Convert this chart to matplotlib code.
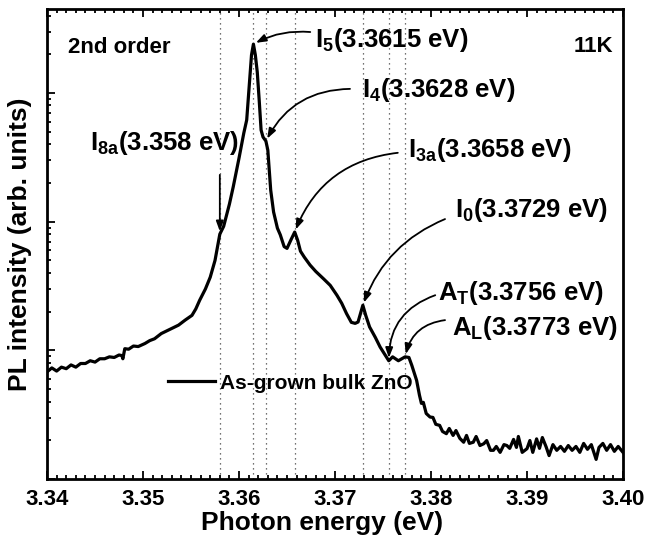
import numpy as np
import matplotlib
matplotlib.use("Agg")
import matplotlib.pyplot as plt
from matplotlib.ticker import MultipleLocator, NullFormatter, FormatStrFormatter, LogLocator

plt.rcParams['font.family'] = ['Liberation Sans', 'DejaVu Sans']
plt.rcParams['font.weight'] = 'bold'
plt.rcParams['mathtext.default'] = 'regular'

# PL spectrum of as-grown bulk ZnO at 11 K (2nd order), energy in eV
energy = [
    3.3400, 3.3405, 3.3410, 3.3415, 3.3420, 3.3425, 3.3430, 3.3435, 3.3440, 3.3445,
    3.3450, 3.3455, 3.3460, 3.3465, 3.3470, 3.3475, 3.3478, 3.3479, 3.3481, 3.3485,
    3.3490, 3.3495, 3.3502, 3.3507, 3.3512, 3.3519, 3.3525, 3.3530, 3.3537, 3.3544,
    3.3551, 3.3555, 3.3559, 3.3565, 3.3570, 3.3575, 3.3580, 3.3584, 3.3590, 3.3594,
    3.3600, 3.3605, 3.3608, 3.3611, 3.3613, 3.3615, 3.3617, 3.3619, 3.3621, 3.3623,
    3.3625, 3.3628, 3.3630, 3.3633, 3.3636, 3.3640, 3.3643, 3.3647, 3.3650, 3.3654,
    3.3658, 3.3661, 3.3664, 3.3668, 3.3674, 3.3680, 3.3688, 3.3695, 3.3702, 3.3707,
    3.3712, 3.3717, 3.3721, 3.3724, 3.3727, 3.3729, 3.3732, 3.3736, 3.3742, 3.3747,
    3.3751, 3.3756, 3.3760, 3.3766, 3.3773, 3.3777, 3.3780, 3.3785, 3.3788, 3.3790,
    3.3792, 3.3795, 3.3799, 3.3802, 3.3805, 3.3809, 3.3812, 3.3816, 3.3819, 3.3823,
    3.3826, 3.3830, 3.3834, 3.3837, 3.3840, 3.3844, 3.3847, 3.3851, 3.3855, 3.3858,
    3.3862, 3.3865, 3.3868, 3.3872, 3.3876, 3.3879, 3.3882, 3.3886, 3.3889, 3.3891,
    3.3895, 3.3900, 3.3903, 3.3906, 3.3910, 3.3913, 3.3916, 3.3920, 3.3923, 3.3927,
    3.3931, 3.3935, 3.3939, 3.3943, 3.3947, 3.3951, 3.3955, 3.3959, 3.3963, 3.3967,
    3.3972, 3.3975, 3.3979, 3.3983, 3.3987, 3.3991, 3.3995, 3.4000,
]
intensity = [
    6.8, 7.3, 6.9, 7.4, 7.2, 7.7, 7.4, 7.9, 7.9, 8.3,
    8.1, 8.6, 8.6, 8.9, 8.8, 9.2, 9.1, 8.6, 10.3, 10.2,
    10.8, 10.7, 11.3, 11.9, 12.3, 13.5, 14.2, 14.8, 15.7, 17.2,
    18.7, 21.0, 24.5, 30.0, 37.0, 50.0, 80.0, 92.0, 137, 187,
    312, 489, 617, 1260, 1975, 2400, 1975, 1456, 883, 515,
    455, 423, 360, 176, 119, 89, 79, 64, 62, 72,
    83, 72, 59, 53, 46, 41, 36, 32, 26.8, 23.2,
    19.3, 16.5, 16.2, 16.6, 19.8, 22.4, 18.7, 15.2, 12.6, 10.6,
    9.5, 8.3, 8.9, 8.3, 8.9, 8.8, 7.64, 5.84, 4.47, 3.87,
    3.94, 3.23, 3.03, 3.01, 2.66, 2.61, 2.34, 2.25, 2.47, 2.18,
    2.38, 2.07, 1.93, 2.18, 1.89, 1.93, 2.14, 1.82, 1.88, 1.99,
    1.67, 1.67, 1.79, 1.61, 1.85, 1.82, 1.73, 2.03, 1.76, 2.14,
    1.61, 1.72, 1.99, 1.61, 2.05, 1.73, 2.10, 1.77, 1.52, 1.85,
    1.67, 1.79, 1.64, 1.82, 1.67, 1.79, 1.61, 1.89, 1.70, 1.85,
    1.42, 1.76, 1.89, 1.67, 1.85, 1.64, 1.79, 1.61,
]

# assigned lines (eV)
line_names = ['I$_{8a}$', 'I$_5$', 'I$_4$', 'I$_{3a}$', 'I$_0$', 'A$_T$', 'A$_L$']
line_energy = [3.358, 3.3615, 3.3628, 3.3658, 3.3729, 3.3756, 3.3773]
line_text = ['3.358', '3.3615', '3.3628', '3.3658', '3.3729', '3.3756', '3.3773']


def curve_at(e):
    # intensity on the spectrum at a given energy (log interpolation)
    return 10 ** np.interp(e, energy, np.log10(intensity))


fig = plt.figure(figsize=(6.46, 5.38), dpi=100)
ax = fig.add_axes([0.0728, 0.1097, 0.8916, 0.8736])

for e in line_energy:
    ax.axvline(e, color='#444444', lw=0.9, ls=(0, (1, 3)), zorder=1)

ax.plot(energy, intensity, color='black', lw=2.3, label='As-grown bulk ZnO', zorder=3)

ax.set_yscale('log')
ax.set_xlim(3.34, 3.40)
ax.set_ylim(1, 4500)

ax.xaxis.set_major_locator(MultipleLocator(0.01))
ax.xaxis.set_minor_locator(MultipleLocator(0.001))
ax.xaxis.set_major_formatter(FormatStrFormatter('%.2f'))
ax.yaxis.set_major_locator(LogLocator(base=10))
ax.yaxis.set_minor_locator(LogLocator(base=10, subs=np.arange(2, 10)))
ax.yaxis.set_major_formatter(NullFormatter())
ax.yaxis.set_minor_formatter(NullFormatter())

ax.tick_params(which='both', direction='in', top=True, right=False, width=1.3)
ax.tick_params(which='major', length=6, labelsize=16, pad=7)
ax.tick_params(which='minor', length=3)
for lab in ax.get_xticklabels():
    lab.set_fontweight('bold')
for s in ax.spines.values():
    s.set_linewidth(2.0)

ax.set_xlabel('Photon energy (eV)', fontsize=19, fontweight='bold')
ax.xaxis.set_label_coords(0.477, -0.068)
ax.set_ylabel('PL intensity (arb. units)', fontsize=19, fontweight='bold', labelpad=4)

# labels and arrows: (text x, text y, arrow start x, arrow start y, rad) in axes fraction
label_pos = {
    'I$_5$': (0.465, 0.919, 0.457, 0.951, 0.15),
    'I$_4$': (0.547, 0.813, 0.526, 0.830, 0.3),
    'I$_{3a}$': (0.627, 0.685, 0.609, 0.694, 0.3),
    'I$_0$': (0.708, 0.557, 0.691, 0.553, 0.22),
    'A$_T$': (0.679, 0.381, 0.674, 0.391, 0.35),
    'A$_L$': (0.703, 0.306, 0.691, 0.338, 0.35),
}
arrow_kw = dict(arrowstyle='-|>,head_length=0.6,head_width=0.22', color='black',
                lw=1.3, shrinkA=0, shrinkB=2, mutation_scale=10)

for name, e, t in zip(line_names, line_energy, line_text):
    label = f'{name}({t} eV)'
    if name == 'I$_{8a}$':
        ax.text(0.0747, 0.700, label, transform=ax.transAxes, fontsize=18.5,
                fontweight='bold', va='baseline', ha='left')
        ax.annotate('', xy=(e, curve_at(e)), xycoords='data',
                    xytext=(e, 0.647), textcoords=('data', 'axes fraction'),
                    arrowprops=arrow_kw)
        continue
    tx, ty, sx, sy, rad = label_pos[name]
    ax.text(tx, ty, label, transform=ax.transAxes, fontsize=18.5,
            fontweight='bold', va='baseline', ha='left')
    kw = dict(arrow_kw, connectionstyle=f'arc3,rad={rad}')
    ax.annotate('', xy=(e, curve_at(e)), xycoords='data',
                xytext=(sx, sy), textcoords='axes fraction', arrowprops=kw)

ax.text(0.0365, 0.906, '2nd order', transform=ax.transAxes, fontsize=16,
        fontweight='bold', va='baseline')
ax.text(0.983, 0.909, '11K', transform=ax.transAxes, fontsize=16,
        fontweight='bold', va='baseline', ha='right')

ax.legend(loc='center left', bbox_to_anchor=(0.21, 0.204), frameon=False,
          fontsize=15, handlelength=2.26, handletextpad=0.25,
          borderpad=0, borderaxespad=0)

fig.savefig('out.png', dpi=100)
